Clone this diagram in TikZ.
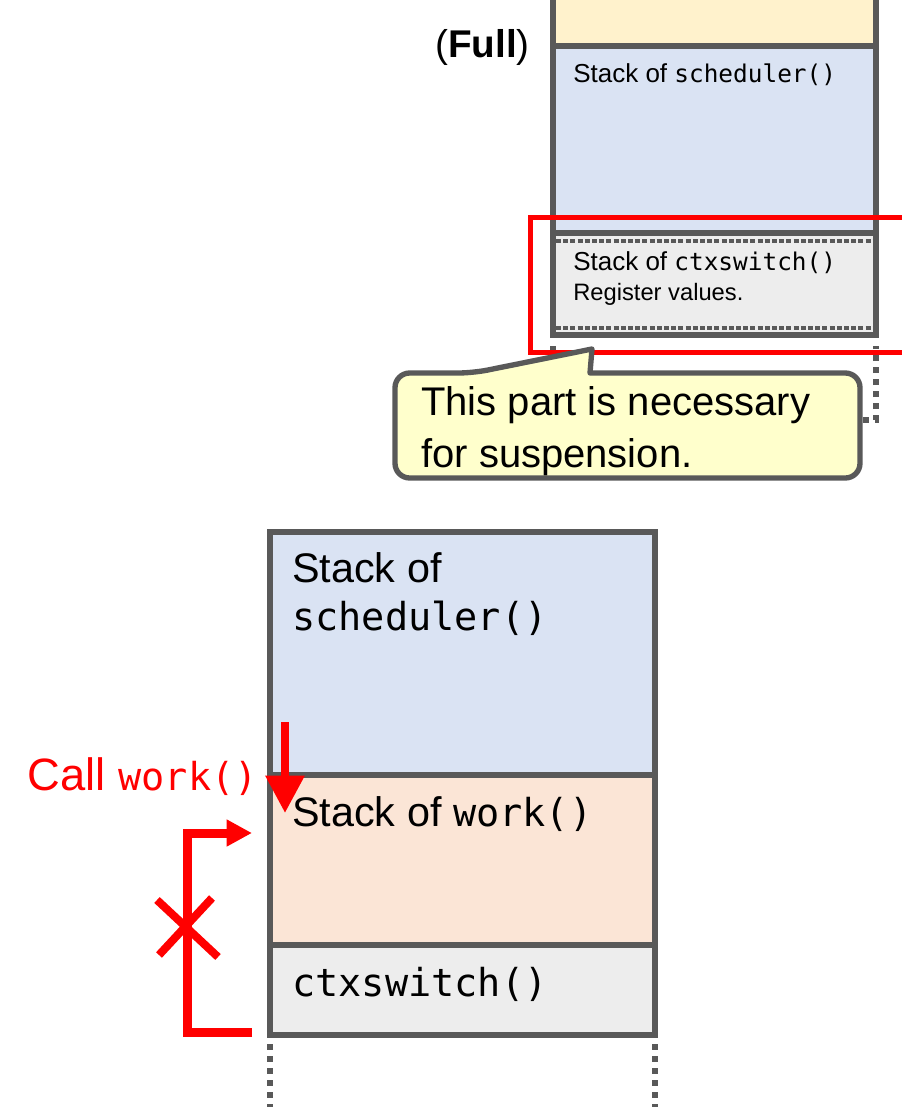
\documentclass[tikz,border=0pt]{standalone}
\usepackage{fontspec}
\setmainfont{Liberation Sans}
\setmonofont{DejaVu Sans Mono}
\usetikzlibrary{arrows.meta}
\definecolor{wall}{HTML}{595959}
\definecolor{schedblue}{HTML}{DAE3F3}
\definecolor{workpeach}{HTML}{FBE5D6}
\definecolor{ctxgray}{HTML}{EDEDED}
\definecolor{fullyellow}{HTML}{FFF2CC}
\definecolor{notefill}{HTML}{FFFFCC}
\newcommand{\smallcode}[1]{{\fontsize{18.3}{22}\selectfont\ttfamily #1}}
\newcommand{\bigcode}[1]{{\fontsize{28.9}{34}\selectfont\ttfamily #1}}

\begin{document}
\begin{tikzpicture}[x=0.75pt, y=-0.75pt, >=latex,
    wallline/.style={draw=wall, line width=4.5pt},
    dotwall/.style={draw=wall, line width=4.5pt, dash pattern=on 4.5pt off 4.5pt},
    seamline/.style={draw=wall, line width=3pt, dash pattern=on 3.8pt off 1.6pt},
    redline/.style={draw=red, line width=6pt},
    notebox/.style={draw=wall, fill=notefill, line width=4pt, line join=round},
    lbl/.style={anchor=base west, inner sep=0pt}]
    \useasboundingbox (0,0) rectangle (902,1107);
    % Full stack (top right)
    \fill[fullyellow] (553,0) rectangle (876,46);
    \fill[schedblue] (553,46) rectangle (876,233);
    \fill[ctxgray] (553,233) rectangle (876,335);
    \foreach \y in {46,233,335} {
        \draw[wallline] (553,\y) -- (876,\y);
    }
    \foreach \y in {241,328} {
        \draw[seamline] (556,\y) -- (873,\y);
    }
    \draw[wallline] (553,0) -- (553,338);
    \draw[wallline] (876,0) -- (876,338);
    \draw[dotwall] (553,346) -- (553,420) -- (876,420) -- (876,346);
    \node[lbl, font=\fontsize{29}{34}\selectfont] (full) at (435,57) {(\textbf{Full})};
    \node[lbl, font=\fontsize{19.5}{24}\selectfont] (schedtop) at (573,82)
        {Stack of \smallcode{scheduler()}};
    \node[lbl, font=\fontsize{19.5}{24}\selectfont] (ctxtop) at (573,270)
        {Stack of \smallcode{ctxswitch()}};
    \node[lbl, font=\fontsize{17.8}{22}\selectfont] (regvals) at (573,300)
        {Register values.};
    % Part kept on suspension
    \draw[draw=red, line width=3.75pt] (902,217) -- (530,217) -- (530,352) -- (902,352);
    \draw[notebox] (473,373) [sharp corners] -- (592,349) -- (590,373)
        [rounded corners=11pt] -- (860,373) -- (860,478) -- (395,478) -- (395,373) -- cycle;
    \node[lbl, font=\fontsize{30}{36}\selectfont] (notea) at (421,415) {This part is necessary};
    \node[lbl, font=\fontsize{30}{36}\selectfont] (noteb) at (421,467) {for suspension.};

    % Stack when work() is called (bottom)
    \fill[schedblue] (270,532) rectangle (655,775);
    \fill[workpeach] (270,775) rectangle (655,945);
    \fill[ctxgray] (270,945) rectangle (655,1035);
    \foreach \y in {775,945} {
        \draw[wallline] (270,\y) -- (655,\y);
    }
    \draw[wallline] (270,532) rectangle (655,1035);
    \draw[dotwall] (270,1044) -- (270,1107);
    \draw[dotwall] (655,1044) -- (655,1107);
    \node[lbl, font=\fontsize{31}{36}\selectfont] (schedbot) at (292,582) {Stack of};
    \node[lbl] (schedcode) at (292,630) {\bigcode{scheduler()}};
    \node[lbl, font=\fontsize{31}{36}\selectfont] (workbot) at (292,826)
        {Stack of \bigcode{work()}};
    \node[lbl] (ctxbot) at (292,996) {\bigcode{ctxswitch()}};

    % Call and return arrows
    \node[anchor=base east, inner sep=0pt, text=red, font=\fontsize{34}{40}\selectfont]
        (call) at (258,790) {Call \bigcode{work()}};
    \coordinate (callfrom) at (285,722);
    \coordinate (callto) at (285,813);
    \draw[redline, -{Triangle[length=28pt, width=28pt]}] (callfrom) -- (callto);
    \coordinate (retfrom) at (252,1032);
    \coordinate (retto) at (252,833);
    \draw[redline, line width=6.75pt, line join=miter, -{Triangle[length=19pt, width=19pt]}]
        (retfrom) -- (187,1032) -- (187,833) -- (retto);
    \draw[redline] (157,900) -- (218,957);
    \draw[redline] (212,898) -- (159,955);
\end{tikzpicture}
\end{document}
